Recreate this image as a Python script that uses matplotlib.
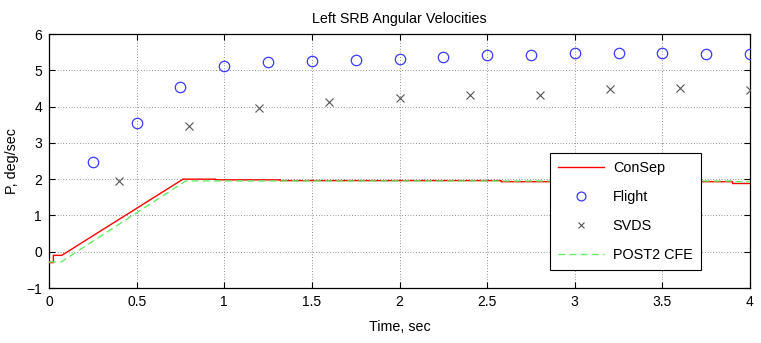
import matplotlib
matplotlib.use("Agg")
import matplotlib.pyplot as plt

plt.rcParams['font.family'] = ['Liberation Sans', 'DejaVu Sans']

# Flight data (blue circles)
flight_t = [0.25, 0.5, 0.75, 1.0, 1.25, 1.5, 1.75, 2.0, 2.25, 2.5, 2.75, 3.0, 3.25, 3.5, 3.75, 4.0]
flight_p = [2.48, 3.56, 4.55, 5.13, 5.22, 5.25, 5.29, 5.32, 5.37, 5.42, 5.43, 5.47, 5.47, 5.47, 5.44, 5.45]

# SVDS simulation (x markers)
svds_t = [0.4, 0.8, 1.2, 1.6, 2.0, 2.4, 2.8, 3.2, 3.6, 4.0]
svds_p = [1.95, 3.47, 3.95, 4.13, 4.24, 4.33, 4.33, 4.48, 4.52, 4.46]

# ConSep simulation (breakpoints)
consep_t = [0.0, 0.025, 0.025, 0.073, 0.765, 0.95, 0.95, 1.32, 1.32, 2.58, 2.58, 3.9, 3.9, 4.0]
consep_p = [-0.30, -0.30, -0.10, -0.10, 2.00, 2.00, 1.98, 1.98, 1.96, 1.96, 1.93, 1.93, 1.88, 1.88]

# POST2 CFE simulation (breakpoints)
post2_t = [0.0, 0.07, 0.78, 3.9, 3.9, 4.0]
post2_p = [-0.28, -0.28, 1.95, 1.95, 1.93, 1.93]

x_ticks = [0, 0.5, 1, 1.5, 2, 2.5, 3, 3.5, 4]
x_tick_labels = ['0', '0.5', '1', '1.5', '2', '2.5', '3', '3.5', '4']
y_ticks = [-1, 0, 1, 2, 3, 4, 5, 6]

fig = plt.figure(figsize=(7.61, 3.43), dpi=100)
ax = fig.add_axes([49 / 761, 1 - 288 / 343, (750 - 49) / 761, (288 - 34) / 343])

ax.plot(consep_t, consep_p, color='#ff0000', lw=1.0, label='ConSep', zorder=3)
ax.plot(flight_t, flight_p, linestyle='none', marker='o', markersize=7.5,
        markerfacecolor='none', markeredgecolor='#3a3aff', markeredgewidth=0.9,
        label='Flight', zorder=4)
ax.plot(svds_t, svds_p, linestyle='none', marker='x', markersize=5.5,
        color='#555555', markeredgewidth=0.8, label='SVDS', zorder=4)
ax.plot(post2_t, post2_p, color='#66ee66', lw=1.0, linestyle=(0, (5, 3)),
        label='POST2 CFE', zorder=3)

ax.set_xlim(0, 4)
ax.set_ylim(-1, 6)
ax.set_xticks(x_ticks)
ax.set_xticklabels(x_tick_labels)
ax.set_yticks(y_ticks)
ax.grid(True, color='#333333', linestyle=(0, (1, 3)), linewidth=0.5)
ax.tick_params(direction='in', top=True, right=True, length=4, width=0.8,
               labelsize=10, pad=5)
for s in ax.spines.values():
    s.set_linewidth(0.9)

ax.set_title('Left SRB Angular Velocities', fontsize=10.3, pad=8)
ax.set_xlabel('Time, sec', fontsize=10.3, labelpad=8)
ax.set_ylabel('P, deg/sec', fontsize=10.3, labelpad=5)

leg = ax.legend(loc='upper left', bbox_to_anchor=(550 / 761, 1 - 153 / 343),
                bbox_transform=fig.transFigure, fontsize=10.4, fancybox=False,
                edgecolor='black', framealpha=1, labelspacing=1.05,
                handlelength=3.2, handletextpad=0.6, borderpad=0.55,
                borderaxespad=0, markerscale=0.85)
leg.get_frame().set_linewidth(0.8)

fig.savefig('out.png', dpi=100)
